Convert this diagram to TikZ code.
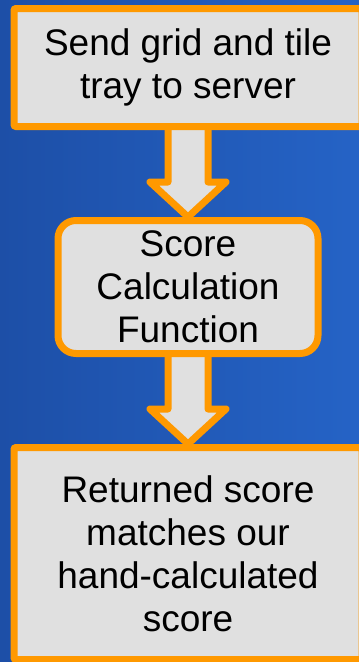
\documentclass[tikz,border=0pt]{standalone}
\usepackage{fontspec}
\setmainfont{Liberation Sans}
\usepackage{tikz}
\usetikzlibrary{positioning, calc}
\usepackage{xcolor}
\definecolor{flowblueL}{HTML}{1D4FA7}
\definecolor{flowblueR}{HTML}{2563C6}
\definecolor{floworange}{HTML}{FF9900}
\definecolor{flowgray}{HTML}{E0E0E0}
\pgfdeclarelayer{bg}
\pgfdeclarelayer{arrows}
\pgfsetlayers{bg,arrows,main}

\begin{document}
\begin{tikzpicture}[
  x=1pt, y=-1pt,
  box/.style={
    draw=floworange, fill=flowgray, line width=7pt, rounded corners=2pt,
    align=center, inner sep=0pt, text=black,
    font=\fontsize{37pt}{43pt}\selectfont
  },
  blockarrow/.style={draw=floworange, fill=flowgray, line width=7pt, line join=round}
]
  \useasboundingbox (0,0) rectangle (359,662);
  \clip (0,0) rectangle (359,662);

  % Background
  \begin{pgfonlayer}{bg}
    \fill[left color=flowblueL, right color=flowblueR] (0,0) rectangle (359,662);
  \end{pgfonlayer}

  % Steps -- outer boxes run off the right edge
  \node[box, minimum width=348pt, minimum height=118pt] (send)
    at (188,67.5) {Send grid and tile\\tray to server};
  \node[box, minimum width=260pt, minimum height=133pt, rounded corners=18pt] (calc)
    at (188,287) {Score\\Calculation\\Function};
  \node[box, minimum width=348pt, minimum height=212pt] (result)
    at (188,553.5) {Returned score\\matches our\\hand-calculated\\score};

  % Block arrows between steps, behind the boxes
  \begin{pgfonlayer}{arrows}
    \draw[blockarrow]
      ($(send.south)+(-20,-2)$) -- ($(calc.north)+(-20,-35)$) -- ($(calc.north)+(-38,-35)$)
      -- (calc.north) -- ($(calc.north)+(38,-35)$) -- ($(calc.north)+(20,-35)$)
      -- ($(send.south)+(20,-2)$);
    \draw[blockarrow]
      ($(calc.south)+(-20,-2)$) -- ($(result.north)+(-20,-35)$) -- ($(result.north)+(-38,-35)$)
      -- (result.north) -- ($(result.north)+(38,-35)$) -- ($(result.north)+(20,-35)$)
      -- ($(calc.south)+(20,-2)$);
  \end{pgfonlayer}
\end{tikzpicture}
\end{document}
